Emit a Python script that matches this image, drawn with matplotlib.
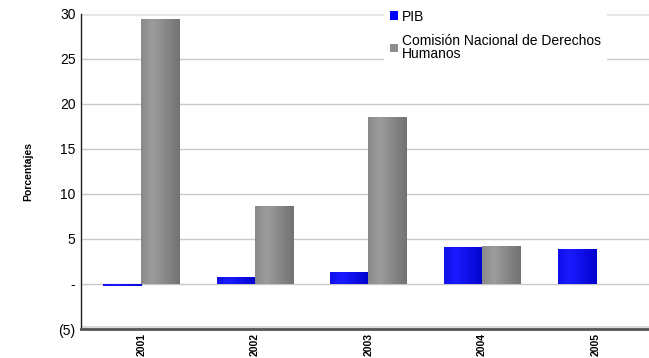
import numpy as np
import matplotlib.pyplot as plt
from matplotlib.patches import Patch
from matplotlib.ticker import FuncFormatter

plt.rcParams['font.family'] = ['Liberation Sans', 'DejaVu Sans']

# data
years = ['2001', '2002', '2003', '2004', '2005']
pib = [-0.2, 0.75, 1.3, 4.1, 3.9]
cndh = [29.4, 8.7, 18.6, 4.2, None]
series_names = ['PIB', 'Comisión Nacional de Derechos\nHumanos']

BAR_W = 0.335
BLUE = '#0000ff'
GRAY = '#8e8e8e'


def cylinder_bar(ax, x, h, width, light, dark):
    # horizontal gradient to mimic the 3D cylinder look
    y0, y1 = (0, h) if h >= 0 else (h, 0)
    rect = ax.bar(x, h, width=width, color='none', edgecolor='none', zorder=3)[0]
    t = np.linspace(0, 1, 64)
    prof = np.clip(1 - np.abs(t - 0.3) * 1.3, 0, 1)
    light = np.array(plt.matplotlib.colors.to_rgb(light))
    dark = np.array(plt.matplotlib.colors.to_rgb(dark))
    img = dark[None, :] + (light - dark)[None, :] * prof[:, None]
    im = ax.imshow(img[None, :, :], extent=(x - width / 2, x + width / 2, y0, y1),
                   aspect='auto', zorder=3, interpolation='bilinear')
    im.set_clip_path(rect)


def fmt(v, pos):
    if abs(v) < 1e-9:
        return '-'
    if v < 0:
        return f'({abs(v):.0f})'
    return f'{v:.0f}'


fig = plt.figure(figsize=(6.49, 3.58), dpi=100)
ax = fig.add_axes([81 / 649, 1 - 329 / 358, 1 - 81 / 649, (329 - 14) / 358])

x = np.arange(len(years))
for i in range(len(years)):
    cylinder_bar(ax, x[i] - BAR_W / 2, pib[i], BAR_W, '#1a1aff', '#0000c8')
    if cndh[i] is not None:
        cylinder_bar(ax, x[i] + BAR_W / 2, cndh[i], BAR_W, '#9c9c9c', '#6e6e6e')

ax.set_xlim(-0.53, 4.47)
ax.set_ylim(-5, 30)
ax.set_yticks(np.arange(-5, 31, 5))
ax.yaxis.set_major_formatter(FuncFormatter(fmt))
ax.set_xticks(x)
ax.set_xticklabels(years, rotation=90, fontsize=7.5, fontweight='bold')
ax.tick_params(axis='y', length=0, labelsize=10, pad=4)
ax.tick_params(axis='x', length=0, pad=3)

ax.grid(axis='y', color='#c8c8c8', lw=1.0, zorder=0)
ax.set_axisbelow(True)
ax.axhline(30, color='#e6e6e6', lw=2, zorder=1)

ax.spines['top'].set_visible(False)
ax.spines['right'].set_visible(False)
ax.spines['left'].set_color('#202020')
ax.spines['left'].set_linewidth(1)
ax.spines['bottom'].set_color('#555555')
ax.spines['bottom'].set_linewidth(2)
ax.axhline(-4.75, color='#d8d8d8', lw=2, zorder=1)

ax.set_ylabel('Porcentajes', fontsize=7.5, fontweight='bold', labelpad=18)

handles = [Patch(facecolor=BLUE, edgecolor='none'),
           Patch(facecolor=GRAY, edgecolor='none')]
leg = fig.legend(handles, series_names, loc='upper left',
                 bbox_to_anchor=(377 / 649, 1 + 3 / 358),
                 fontsize=10, handlelength=0.6, handleheight=0.6,
                 handletextpad=0.3, labelspacing=0.75,
                 frameon=True, fancybox=False, borderpad=0.4)
leg.get_frame().set_edgecolor('none')
leg.get_frame().set_facecolor('white')
leg.get_frame().set_alpha(1)
for t in leg.get_texts():
    t.set_linespacing(0.9)

fig.savefig('out.png', dpi=100)
